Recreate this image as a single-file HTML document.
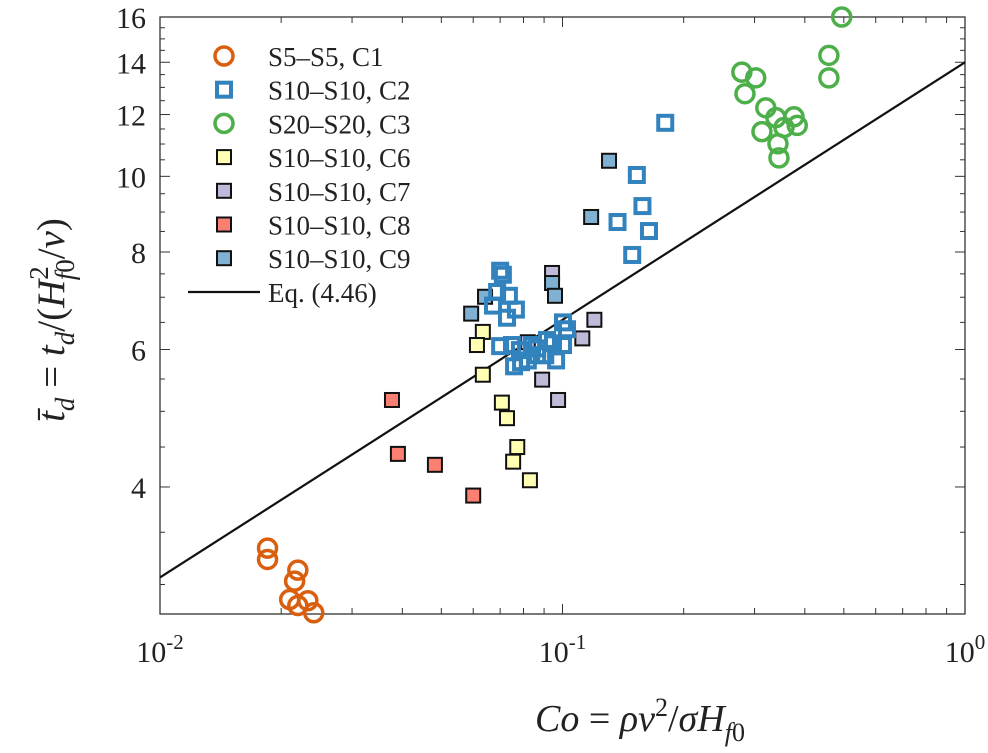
<!DOCTYPE html>
<html><head><meta charset="utf-8"><style>
html,body{margin:0;padding:0;background:#fff}
svg{display:block}
text{font-family:"Liberation Serif",serif;fill:#222}
</style></head><body>
<svg id="chart" width="988" height="753" viewBox="0 0 988 753" xmlns="http://www.w3.org/2000/svg"></svg>
<script>
const c1X=[0.0185,0.0185,0.0220,0.0216,0.0210,0.0220,0.0233,0.0241];
const c1Y=[3.34,3.23,3.13,3.03,2.87,2.82,2.86,2.76];
const c2X=[0.180,0.153,0.158,0.137,0.164,0.149,0.070,0.0711,0.0688,0.0736,0.0766,0.0672,0.0728,0.070,0.0749,0.0784,0.0865,0.0915,0.0865,0.0758,0.0789,0.0947,0.1003,0.0964,0.1003,0.1026,0.0906,0.082,0.084];
const c2Y=[11.71,10.04,9.16,8.74,8.51,7.93,7.57,7.48,7.11,7.03,6.75,6.83,6.59,6.06,6.08,5.99,6.02,6.17,5.90,5.71,5.78,6.11,6.08,5.81,6.50,6.37,5.90,5.81,6.08];
const c3X=[0.279,0.302,0.284,0.320,0.339,0.313,0.376,0.355,0.383,0.343,0.345,0.459,0.459,0.494];
const c3Y=[13.6,13.37,12.76,12.24,11.89,11.41,11.92,11.55,11.62,11.01,10.56,14.29,13.37,16.0];
const c6X=[0.0634,0.0613,0.0634,0.0707,0.0728,0.0772,0.0754,0.083];
const c6Y=[6.32,6.08,5.57,5.13,4.90,4.50,4.31,4.08];
const c7X=[0.0942,0.120,0.082,0.112,0.089,0.0975];
const c7Y=[7.52,6.55,6.13,6.20,5.49,5.17];
const c8X=[0.0377,0.039,0.0482,0.060];
const c8Y=[5.17,4.41,4.27,3.90];
const c9X=[0.0942,0.0958,0.0642,0.0593,0.1305,0.1178];
const c9Y=[7.30,7.03,7.01,6.67,10.47,8.87];
const yTicks=[4,6,8,10,12,14,16];
const xTickExp=[-2,-1,0];
const eqCoef=14.0, eqExp=0.33;

const L=160,R=965,T=17,B=614,yTop=16,yBot=2.75;
const sx=v=>L+(Math.log10(v)+2)/2*(R-L);
const sy=v=>T+(Math.log10(yTop)-Math.log10(v))/(Math.log10(yTop)-Math.log10(yBot))*(B-T);
const svg=document.getElementById('chart');
const NS='http://www.w3.org/2000/svg';
function mk(tag,attrs,parent){const e=document.createElementNS(NS,tag);for(const k in attrs)e.setAttribute(k,attrs[k]);(parent||svg).appendChild(e);return e;}

const axes=mk('g',{});


const frame=mk('rect',{x:L,y:T,width:R-L,height:B-T,fill:'none',stroke:'#333','stroke-width':1.3},axes);


for(let d=-2;d<0;d++){for(let m=1;m<10;m++){const v=m*Math.pow(10,d);const x=sx(v);const len=m===1?10:6;
 mk('line',{x1:x,y1:B,x2:x,y2:B-len,stroke:'#333','stroke-width':1},axes);
 mk('line',{x1:x,y1:T,x2:x,y2:T+len,stroke:'#333','stroke-width':1},axes);}}
xTickExp.forEach(e=>{const x=sx(Math.pow(10,e));
 const t=mk('text',{x:x,y:662,'text-anchor':'middle','font-size':30},axes);
 
 
 t.innerHTML='10<tspan dy="-13" font-size="21">'+e+'</tspan>';});
for(let v=3;v<=16;v+=0.5){const y=sy(v);const len=(v%2===0)?10:5;
 mk('line',{x1:L,y1:y,x2:L+len,y2:y,stroke:'#333','stroke-width':1},axes);
 mk('line',{x1:R,y1:y,x2:R-len,y2:y,stroke:'#333','stroke-width':1},axes);}
yTicks.forEach(v=>{const t=mk('text',{x:146,y:sy(v)+11,'text-anchor':'end','font-size':30},axes);
 
 
 t.textContent=v;});
const xl=mk('text',{x:640,y:731,'text-anchor':'middle','font-size':38});


xl.innerHTML='<tspan font-style="italic">Co</tspan> = <tspan font-style="italic">ρν</tspan><tspan dy="-15" font-size="26">2</tspan><tspan dy="15">/</tspan><tspan font-style="italic">σH</tspan><tspan dy="10" font-size="26" font-style="italic">f</tspan><tspan font-size="26">0</tspan>';
const yl=mk('text',{x:0,y:0,'text-anchor':'middle','font-size':39,transform:'translate(64,320) rotate(-90)'});


yl.innerHTML='<tspan font-style="italic">t̄</tspan><tspan dy="10" font-size="27" font-style="italic">d</tspan><tspan dy="-10"> = </tspan><tspan font-style="italic">t</tspan><tspan dy="10" font-size="27" font-style="italic">d</tspan><tspan dy="-10">/(</tspan><tspan font-style="italic">H</tspan><tspan dy="-16" font-size="27">2</tspan><tspan dx="-14" dy="26" font-size="27" font-style="italic">f</tspan><tspan font-size="27">0</tspan><tspan dy="-10">/</tspan><tspan font-style="italic">ν</tspan>)';
const eq=mk('line',{x1:sx(0.01),y1:sy(eqCoef*Math.pow(0.01,eqExp)),x2:sx(1),y2:sy(eqCoef),stroke:'#111','stroke-width':2.2});



function circ(x,y,col,g){return mk('circle',{cx:x,cy:y,r:9,fill:'none',stroke:col,'stroke-width':3.5},g);}
function osq(x,y,col,g){return mk('rect',{x:x-7,y:y-7,width:14,height:14,fill:'none',stroke:col,'stroke-width':4},g);}
function fsq(x,y,col,g){return mk('rect',{x:x-7,y:y-7,width:14,height:14,fill:col,stroke:'#111','stroke-width':2},g);}
const series=[
 {n:'s10-c6',X:c6X,Y:c6Y,f:fsq,c:'#ffffb3',lab:'S10–S10, C6'},
 {n:'s10-c7',X:c7X,Y:c7Y,f:fsq,c:'#bebada',lab:'S10–S10, C7'},
 {n:'s10-c8',X:c8X,Y:c8Y,f:fsq,c:'#fb8072',lab:'S10–S10, C8'},
 {n:'s10-c9',X:c9X,Y:c9Y,f:fsq,c:'#80b1d3',lab:'S10–S10, C9'},
 {n:'s10-c2',X:c2X,Y:c2Y,f:osq,c:'#3182bd',lab:'S10–S10, C2'},
 {n:'s5-c1',X:c1X,Y:c1Y,f:circ,c:'#d95f0e',lab:'S5–S5, C1'},
 {n:'s20-c3',X:c3X,Y:c3Y,f:circ,c:'#4daf4a',lab:'S20–S20, C3'}];
series.forEach(s=>{const g=mk('g',{});
 
 
 s.X.forEach((v,i)=>{const p=s.f(sx(v),sy(s.Y[i]),s.c,g);
  
  });});
const lg=mk('g',{});


const order=[5,4,6,0,1,2,3];
order.forEach((k,i)=>{const s=series[k];const y=56+i*33.7;
 const e=mk('g',{},lg);
 
 
 s.f(224,y,s.c,e);
 const t=mk('text',{x:268,y:y+10,'font-size':27},e);t.textContent=s.lab;});
const le=mk('g',{},lg);


mk('line',{x1:188,y1:292,x2:260,y2:292,stroke:'#111','stroke-width':2.2},le);
const lt=mk('text',{x:268,y:302,'font-size':27},le);lt.textContent='Eq. (4.46)';
</script>
</body></html>
